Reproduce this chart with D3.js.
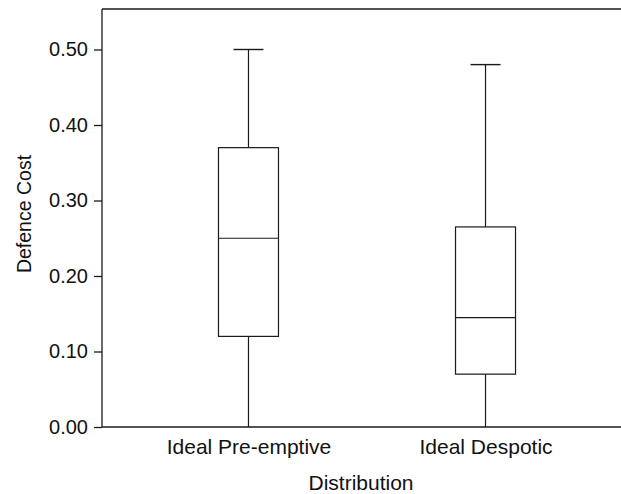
<!DOCTYPE html>
<html>
<head>
<meta charset="utf-8">
<script src="https://cdn.jsdelivr.net/npm/d3@7"></script>
<style>
  html, body { margin: 0; padding: 0; background: #fff; }
  svg { display: block; }
  text { font-family: "Liberation Sans", Arial, Helvetica, sans-serif; fill: #111; }
</style>
</head>
<body>
<svg id="chart" width="621" height="494"></svg>
<script>
// ---- data ----
const categories = ["Ideal Pre-emptive", "Ideal Despotic"];
const whiskerLow = [0.00, 0.00];
const q1 = [0.12, 0.07];
const median = [0.25, 0.145];
const q3 = [0.37, 0.265];
const whiskerHigh = [0.50, 0.48];
const yTicks = [0.00, 0.10, 0.20, 0.30, 0.40, 0.50];
const yTitle = "Defence Cost";
const xTitle = "Distribution";

// ---- layout ----
const W = 621, H = 494;
const margin = { top: 9, right: -11, bottom: 67, left: 102 };
const x0 = margin.left, x1 = W - margin.right;
const y0 = H - margin.bottom, y1 = margin.top;

const svg = d3.select("#chart");

const y = d3.scaleLinear().domain([0, 0.5]).range([y0, 49.5]);
const x = d3.scalePoint().domain(categories).range([x0, x1]).padding(0.618);

const stroke = "#1a1a1a";

// frame top line
svg.append("line").attr("x1", x0).attr("x2", x1).attr("y1", y1).attr("y2", y1)
  .attr("stroke", stroke).attr("stroke-width", 1.3);

// y axis
const yAxis = d3.axisLeft(y).tickValues(yTicks).tickFormat(d3.format(".2f"))
  .tickSize(8).tickPadding(6);
const gy = svg.append("g").attr("transform", `translate(${x0},0)`).call(yAxis);
gy.select(".domain").attr("d", `M0,${y1}V${y0}`).attr("stroke", stroke).attr("stroke-width", 1.3);
gy.selectAll(".tick line").attr("stroke", stroke).attr("stroke-width", 1.3);
gy.selectAll(".tick text").style("font-size", "20px").attr("fill", "#111")
  .style("font-family", '"Liberation Sans", Arial, sans-serif');

// x axis
const xAxis = d3.axisBottom(x).tickSize(0).tickPadding(12);
const gx = svg.append("g").attr("transform", `translate(0,${y0})`).call(xAxis);
gx.select(".domain").attr("d", `M${x0},0H${x1}`).attr("stroke", stroke).attr("stroke-width", 1.3);
gx.selectAll(".tick text").style("font-size", "21px").attr("fill", "#111")
  .style("font-family", '"Liberation Sans", Arial, sans-serif');

// boxes
const boxW = 60, capW = 30;
const data = categories.map((c, i) => ({
  c, lo: whiskerLow[i], q1: q1[i], med: median[i], q3: q3[i], hi: whiskerHigh[i]
}));
const g = svg.append("g");
data.forEach(d => {
  const cx = x(d.c);
  g.append("line").attr("x1", cx).attr("x2", cx).attr("y1", y(d.q3)).attr("y2", y(d.hi))
    .attr("stroke", stroke).attr("stroke-width", 1.2);
  g.append("line").attr("x1", cx).attr("x2", cx).attr("y1", y(d.lo)).attr("y2", y(d.q1))
    .attr("stroke", stroke).attr("stroke-width", 1.2);
  g.append("line").attr("x1", cx - capW / 2).attr("x2", cx + capW / 2)
    .attr("y1", y(d.hi)).attr("y2", y(d.hi)).attr("stroke", stroke).attr("stroke-width", 1.4);
  g.append("rect").attr("x", cx - boxW / 2).attr("width", boxW)
    .attr("y", y(d.q3)).attr("height", y(d.q1) - y(d.q3))
    .attr("fill", "#fff").attr("stroke", stroke).attr("stroke-width", 1.2);
  g.append("line").attr("x1", cx - boxW / 2).attr("x2", cx + boxW / 2)
    .attr("y1", y(d.med)).attr("y2", y(d.med)).attr("stroke", stroke).attr("stroke-width", 1.2);
});

// titles
svg.append("text").attr("x", 361).attr("y", 490).attr("text-anchor", "middle")
  .style("font-size", "21px").text(xTitle);
svg.append("text").attr("transform", `translate(31,214) rotate(-90)`)
  .attr("text-anchor", "middle").style("font-size", "19.5px").text(yTitle);
</script>
</body>
</html>
